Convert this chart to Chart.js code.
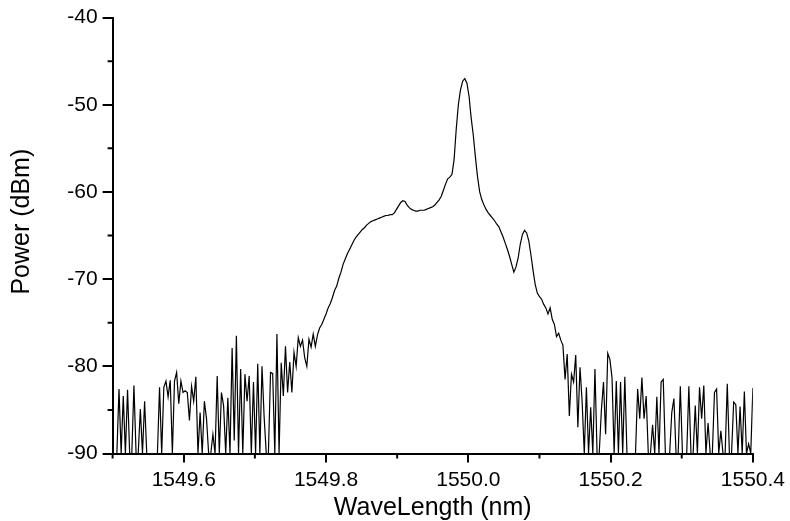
<!DOCTYPE html>
<html>
<head>
<meta charset="utf-8">
<script src="https://cdn.jsdelivr.net/npm/chart.js@4.4.1/dist/chart.umd.min.js"></script>
<style>
  html, body { margin: 0; padding: 0; background: #fff; }
</style>
</head>
<body>
<canvas id="spectrum" width="790" height="521"></canvas>
<script>
// optical spectrum, sampled every 0.003 nm from 1549.5 nm
const wlStart = 1549.5;
const wlStep = 0.003;
const power = [
  -90, -90, -90, -82.6, -90, -83.4, -90, -82.7, -90, -90,
  -82.2, -90, -90, -84.9, -90, -84.0, -90, -90, -90, -90,
  -90, -90, -82.4, -90, -82.4, -81.7, -83.5, -81.6, -90, -81.7,
  -80.7, -84.3, -81.7, -83.0, -82.8, -83.0, -86.2, -82.3, -84.0, -81.2,
  -90, -85.3, -90, -84.0, -86.0, -90, -90, -87.8, -90, -81.1,
  -90, -83.0, -84.5, -90, -83.6, -90, -77.9, -88.5, -76.5, -90,
  -80.3, -90, -80.9, -84.0, -81.1, -90, -81.8, -90, -79.7, -90,
  -80.0, -85.8, -90, -90, -80.7, -80.8, -90, -76.3, -90, -79.6,
  -83.4, -77.7, -83.0, -79.5, -83.0, -78.4, -80.0, -76.7, -77.7, -77.0,
  -79.0, -80.0, -76.9, -77.8, -76.3, -77.7, -76.4, -75.6, -75.2, -74.6,
  -74.0, -73.3, -72.8, -72.1, -71.3, -70.8, -69.9, -69.2, -68.3, -67.7,
  -67.1, -66.6, -66.1, -65.6, -65.2, -64.9, -64.6, -64.3, -64.1, -63.8,
  -63.6, -63.4, -63.3, -63.2, -63.1, -63.0, -62.9, -62.8, -62.7, -62.7,
  -62.6, -62.6, -62.4, -62.0, -61.6, -61.2, -61.0, -61.1, -61.5, -61.8,
  -62.0, -62.1, -62.2, -62.2, -62.1, -62.1, -62.1, -62.0, -61.9, -61.8,
  -61.7, -61.5, -61.2, -60.9, -60.5, -59.8, -59.1, -58.5, -58.3, -58.0,
  -56.3, -52.8, -50.0, -48.3, -47.3, -47.0, -47.5, -49.0, -51.5, -53.5,
  -56.0, -58.3, -60.0, -60.9, -61.5, -62.0, -62.4, -62.7, -63.0, -63.3,
  -63.7, -64.0, -64.6, -65.2, -65.9, -66.6, -67.4, -68.3, -69.2, -68.6,
  -67.6, -66.0, -64.9, -64.4, -64.7, -65.6, -67.2, -69.0, -70.6, -71.6,
  -72.0, -72.3, -72.9, -73.3, -74.0, -73.3, -74.6, -75.2, -76.6, -76.2,
  -77.0, -77.6, -81.5, -78.6, -85.7, -80.9, -81.8, -78.7, -87.0, -80.1,
  -84.1, -90, -82.4, -90, -84.7, -90, -80.3, -90, -90, -85.1,
  -81.8, -87.8, -78.5, -79.2, -81.3, -90, -81.7, -90, -81.8, -90,
  -81.2, -90, -90, -90, -90, -90, -82.6, -86.0, -81.3, -86.0,
  -83.4, -90, -90, -86.7, -90, -83.5, -90, -81.8, -81.5, -90,
  -90, -90, -85.3, -83.7, -90, -90, -82.3, -90, -90, -90,
  -82.3, -90, -90, -84.5, -90, -82.4, -86.0, -82.2, -90, -86.5,
  -90, -90, -83.0, -82.6, -90, -87.4, -90, -90, -82.0, -90,
  -90, -84.1, -84.4, -90, -84.6, -90, -82.9, -90, -88.9, -90,
  -82.5
];

const xTicks = [1549.6, 1549.8, 1550.0, 1550.2, 1550.4];
const xMinor = [1549.5, 1549.7, 1549.9, 1550.1, 1550.3];
const yTicks = [-90, -80, -70, -60, -50, -40];
const yMinor = [-85, -75, -65, -55, -45];

const points = power.map((p, i) => ({ x: +(wlStart + i * wlStep).toFixed(3), y: p }));

const fontFamily = "'Liberation Sans', Arial, sans-serif";

// short minor ticks drawn next to the axis lines
const minorTicks = {
  id: 'minorTicks',
  afterDraw(chart) {
    const ctx = chart.ctx;
    const xs = chart.scales.x, ys = chart.scales.y;
    const area = chart.chartArea;
    ctx.save();
    ctx.strokeStyle = '#000';
    ctx.lineWidth = 2;
    ctx.beginPath();
    xMinor.forEach(v => {
      const px = xs.getPixelForValue(v);
      ctx.moveTo(px, area.bottom);
      ctx.lineTo(px, area.bottom + 5);
    });
    yMinor.forEach(v => {
      const py = ys.getPixelForValue(v);
      ctx.moveTo(area.left, py);
      ctx.lineTo(area.left - 5, py);
    });
    ctx.stroke();
    ctx.restore();
  }
};

new Chart(document.getElementById('spectrum'), {
  type: 'line',
  data: {
    datasets: [{
      data: points,
      borderColor: '#000',
      borderWidth: 1.2,
      pointRadius: 0,
      tension: 0,
      fill: false
    }]
  },
  options: {
    responsive: false,
    animation: false,
    devicePixelRatio: 1,
    layout: { padding: { top: 17, right: 34, left: 0, bottom: 0 } },
    plugins: { legend: { display: false }, tooltip: { enabled: false } },
    scales: {
      x: {
        type: 'linear',
        min: 1549.5,
        max: 1550.4,
        afterBuildTicks: s => { s.ticks = xTicks.map(v => ({ value: v })); },
        afterFit: s => { s.height = 67.5; },
        grid: { drawOnChartArea: false, drawTicks: true, tickLength: 9, color: '#000', lineWidth: 2 },
        border: { display: true, color: '#000', width: 2 },
        ticks: {
          autoSkip: false,
          maxRotation: 0,
          padding: 5,
          color: '#000',
          font: { family: fontFamily, size: 21 },
          callback: v => v.toFixed(1)
        },
        title: {
          display: true,
          text: 'WaveLength (nm)',
          color: '#000',
          font: { family: fontFamily, size: 25, lineHeight: 1 },
          padding: { top: 0, bottom: 0 }
        }
      },
      y: {
        min: -90,
        max: -40,
        afterBuildTicks: s => { s.ticks = yTicks.map(v => ({ value: v })); },
        afterFit: s => { s.width = 112.6; },
        grid: { drawOnChartArea: false, drawTicks: true, tickLength: 10, color: '#000', lineWidth: 2 },
        border: { display: true, color: '#000', width: 2 },
        ticks: {
          padding: 5,
          color: '#000',
          font: { family: fontFamily, size: 21 },
          callback: v => String(v)
        },
        title: {
          display: true,
          text: '    Power (dBm)',
          color: '#000',
          font: { family: fontFamily, size: 25, lineHeight: 1 },
          padding: { top: 10, bottom: 0 }
        }
      }
    }
  },
  plugins: [minorTicks]
});
</script>
</body>
</html>
